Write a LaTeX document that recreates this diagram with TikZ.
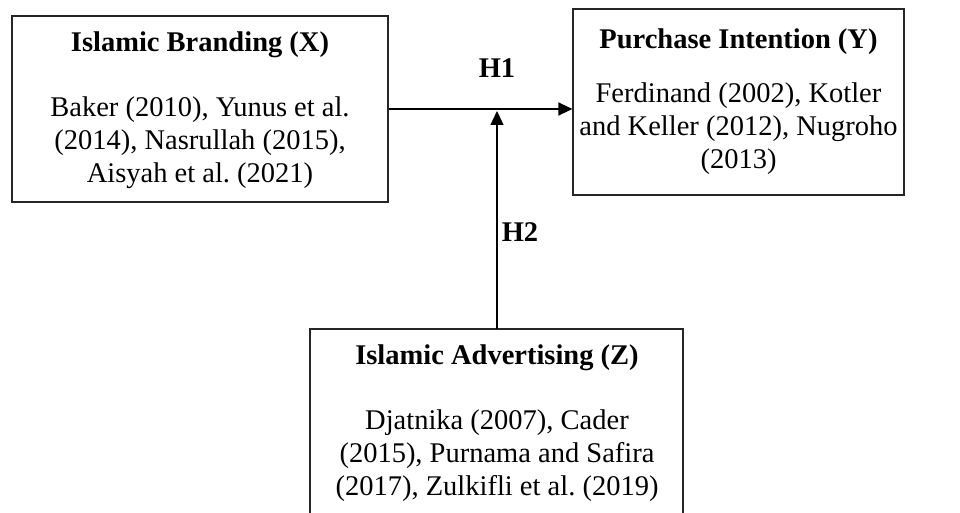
\documentclass[tikz,border=0pt]{standalone}
\usepackage{fontspec}
\setmainfont{Liberation Serif}
\usetikzlibrary{arrows.meta}
\begin{document}
\frenchspacing
\begin{tikzpicture}[x=1pt,y=-1pt,
  boxs/.style={draw=black!85, line width=1.2pt, minimum height=186pt, inner sep=0pt},
  ttl/.style={font=\fontsize{28.5}{33}\selectfont\bfseries, inner sep=0pt, anchor=center},
  body/.style={font=\fontsize{28.5}{33}\selectfont, align=center, inner sep=0pt, anchor=center},
  conn/.style={line width=1.3pt, -{Triangle[length=14pt,width=13pt]}}
]
\useasboundingbox (0,0) rectangle (960,513);
% boxes
\node[boxs, minimum width=376pt] (X) at (200,109) {};
\node[boxs, minimum width=331pt] (Y) at (738.5,102) {};
\coordinate (ZTL) at (310,329);
\coordinate (ZTR) at (683,329);
\coordinate (Ztop) at (497,329);
\draw[black!85, line width=1.2pt] (310,513) -- (ZTL) -- (ZTR) -- (683,513);
% texts
\node[ttl] (Xt) at (200,45) {Islamic Branding (X)};
\node[body] (Xb) at (200,143) {Baker (2010), Yunus et al.\\(2014), Nasrullah (2015),\\Aisyah et al. (2021)};
\node[ttl] (Yt) at (738.5,42) {Purchase Intention (Y)};
\node[body] (Yb) at (738.5,129) {Ferdinand (2002), Kotler\\and Keller (2012), Nugroho\\(2013)};
\node[ttl] (Zt) at (497,358) {Islamic Advertising (Z)};
\node[body] (Zb) at (497,456) {Djatnika (2007), Cader\\(2015), Purnama and Safira\\(2017), Zulkifli et al. (2019)};
\node[ttl] (H1) at (497,68) {H1};
\node[ttl] (H2) at (520,232) {H2};
% connectors
\coordinate (mid) at (497,111);
\draw[conn] (X.east |- 0,109) -- (Y.west |- 0,109);
\draw[conn] (Ztop) -- (mid);
\end{tikzpicture}
\end{document}
